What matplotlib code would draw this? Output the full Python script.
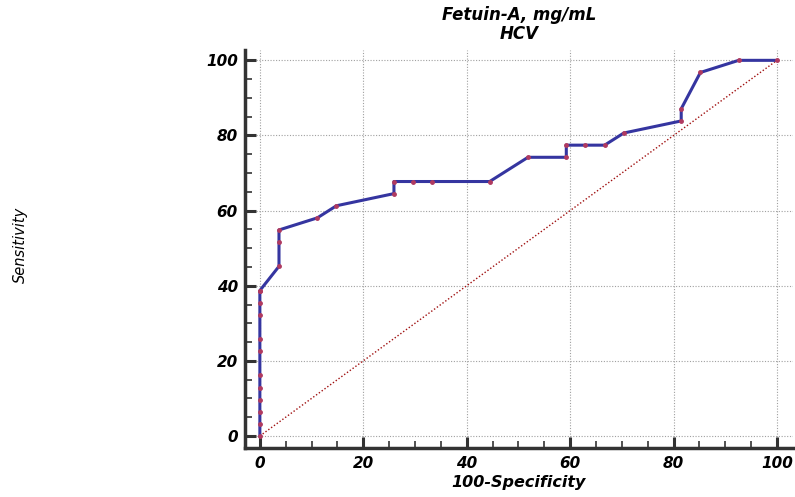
import numpy as np
import matplotlib.pyplot as plt
from matplotlib.ticker import MultipleLocator

plt.rcParams['font.family'] = ['DejaVu Sans']

# ROC points (100-Specificity, Sensitivity)
fpr = [0, 0, 0, 0, 0, 0, 0, 0, 0, 0, 0, 0,
       3.7, 3.7, 3.7, 11.11, 14.81, 25.93, 25.93, 29.63, 33.33, 44.44,
       51.85, 59.26, 59.26, 62.96, 66.67, 70.37, 81.48, 81.48, 85.19,
       92.59, 100]
tpr = [0, 3.23, 6.45, 9.68, 12.90, 16.13, 22.58, 25.81, 32.26, 35.48, 38.71, 38.71,
       45.16, 51.61, 54.84, 58.06, 61.29, 64.52, 67.74, 67.74, 67.74, 67.74,
       74.19, 74.19, 77.42, 77.42, 77.42, 80.65, 83.87, 87.10, 96.77,
       100, 100]

fig = plt.figure(figsize=(7.95, 4.97), dpi=100)
ax = fig.add_axes([0.308, 0.0986, 0.6895, 0.8004])

ax.plot([0, 100], [0, 100], color='#a01010', lw=1.0, ls=(0, (1, 1.5)), zorder=2)
ax.plot(fpr, tpr, color='#3535a0', lw=2.2, zorder=3)
ax.plot(fpr, tpr, ls='none', marker='o', ms=2.5, color='#b03a60', zorder=4)

ax.set_xlim(-2.9, 103.1)
ax.set_ylim(-3.2, 102.7)
ax.xaxis.set_major_locator(MultipleLocator(20))
ax.xaxis.set_minor_locator(MultipleLocator(5))
ax.yaxis.set_major_locator(MultipleLocator(20))
ax.yaxis.set_minor_locator(MultipleLocator(5))
ax.grid(True, which='major', color='#a0a0a0', ls=(0, (1, 1.5)), lw=0.8)

for s in ['top', 'right']:
    ax.spines[s].set_visible(False)
for s in ['left', 'bottom']:
    ax.spines[s].set_linewidth(2.5)
    ax.spines[s].set_color('#333333')

ax.tick_params(which='major', direction='in', length=8, width=2.2, color='#333333')
ax.tick_params(which='minor', direction='in', length=5, width=1.2, color='#333333')
ax.tick_params(axis='x', pad=6)
ax.tick_params(axis='y', pad=5)
for lab in ax.get_xticklabels() + ax.get_yticklabels():
    lab.set_fontsize(11)
    lab.set_fontweight('bold')
    lab.set_fontstyle('italic')

ax.set_title("Fetuin-A, mg/mL\nHCV", fontsize=12, fontweight='bold', fontstyle='italic',
             linespacing=1.05, pad=8)
ax.set_xlabel("100-Specificity", fontsize=11.5, fontweight='bold', fontstyle='italic', labelpad=3)
fig.text(0.026, 0.507, "Sensitivity", rotation=90, ha='center', va='center',
         fontsize=10.5, fontstyle='italic')

fig.savefig("out.png", dpi=100)
